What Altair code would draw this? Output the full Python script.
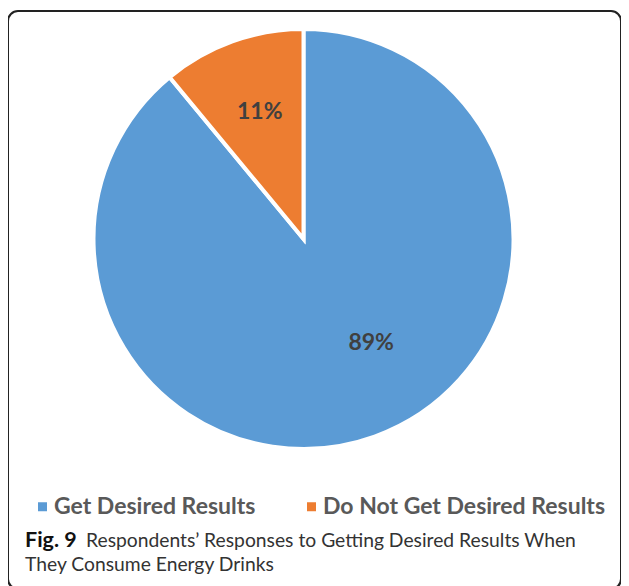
import altair as alt
import pandas as pd

categories = ["Get Desired Results", "Do Not Get Desired Results"]
values = [89, 11]
labels = ["89%", "11%"]
colors = ["#5B9BD5", "#ED7D31"]
caption_bold = ["Fig. 9"]
caption_lines = ["Respondents\u2019 Responses to Getting Desired Results When", "They Consume Energy Drinks"]

df = pd.DataFrame({"category": categories, "value": values, "label": labels, "order": [0, 1]})

CX, CY = 295.5, 228

base = alt.Chart(df).encode(
    theta=alt.Theta("value:Q", stack=True),
    order=alt.Order("order:Q"),
)

pie = base.mark_arc(radius=210, stroke="white", strokeWidth=4).encode(
    x=alt.value(CX), y=alt.value(CY),
    color=alt.Color("category:N", scale=alt.Scale(domain=categories, range=colors),
                    legend=alt.Legend(orient="none", legendX=23, legendY=484, direction="horizontal",
                                      title=None, symbolType="square", symbolSize=81,
                                      symbolStrokeWidth=0, labelFont="Lato", labelFontWeight="bold",
                                      labelFontSize=23, labelColor="#595959", columnPadding=44,
                                      labelOffset=0, labelLimit=400)),
)

lbl11 = base.mark_text(radius=135, font="Lato", fontWeight="bold", fontSize=23, color="#404040", dx=2).encode(
    x=alt.value(CX), y=alt.value(CY),
    text=alt.condition(alt.datum.order == 1, "label:N", alt.value(""))
)
lbl89 = base.mark_text(radius=123, font="Lato", fontWeight="bold", fontSize=23, color="#404040", dx=26, dy=-12).encode(
    x=alt.value(CX), y=alt.value(CY),
    text=alt.condition(alt.datum.order == 0, "label:N", alt.value(""))
)

cap_bold = alt.Chart(pd.DataFrame({"t": caption_bold})).mark_text(
    align="left", baseline="alphabetic", font="Lato", fontWeight="bold", fontSize=21.5, color="#111111"
).encode(x=alt.value(17), y=alt.value(536), text="t:N")
cap1 = alt.Chart(pd.DataFrame({"t": [caption_lines[0]]})).mark_text(
    align="left", baseline="alphabetic", font="Lato", fontSize=19.3, color="#333333"
).encode(x=alt.value(78), y=alt.value(536), text="t:N")
cap2 = alt.Chart(pd.DataFrame({"t": [caption_lines[1]]})).mark_text(
    align="left", baseline="alphabetic", font="Lato", fontSize=19.3, color="#333333"
).encode(x=alt.value(17), y=alt.value(560), text="t:N")

chart = alt.layer(pie, lbl11, lbl89, cap_bold, cap1, cap2).properties(
    width=613, height=581,
    autosize=alt.AutoSizeParams(type="fit", contains="padding"),
    padding={"left": 0, "top": 3, "right": 0, "bottom": 0},
).configure_view(stroke="#222222", strokeWidth=2, cornerRadius=10)

chart.save("out.html", embed_options={"renderer": "svg", "actions": False})
